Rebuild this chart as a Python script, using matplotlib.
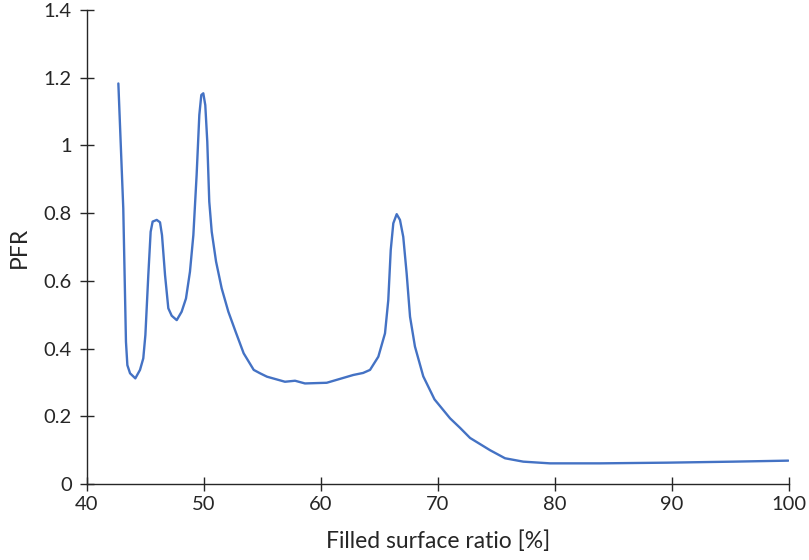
import matplotlib
matplotlib.use("Agg")
import matplotlib.pyplot as plt

filled_ratio = [42.68, 43.10, 43.33, 43.45, 43.68, 44.13, 44.53, 44.81, 44.99, 45.24,
                45.44, 45.61, 45.96, 46.24, 46.41, 46.67, 46.95, 47.24, 47.67, 48.09,
                48.46, 48.80, 49.09, 49.37, 49.60, 49.77, 49.94, 50.11, 50.28, 50.45,
                50.66, 51.03, 51.51, 52.08, 52.70, 53.39, 54.25, 54.79, 55.38, 56.92,
                57.78, 58.63, 60.49, 62.76, 63.60, 64.19, 64.90, 65.47, 65.75, 65.96,
                66.18, 66.47, 66.75, 67.03, 67.32, 67.61, 68.03, 68.74, 69.70, 71.03,
                71.88, 72.74, 74.44, 75.73, 77.29, 79.57, 83.85, 89.55, 95.20, 99.94]
pfr = [1.183, 0.814, 0.420, 0.351, 0.327, 0.312, 0.337, 0.371, 0.440, 0.617,
       0.745, 0.775, 0.780, 0.773, 0.735, 0.617, 0.519, 0.497, 0.484, 0.509,
       0.548, 0.627, 0.735, 0.913, 1.090, 1.149, 1.154, 1.119, 1.011, 0.834,
       0.745, 0.657, 0.578, 0.509, 0.450, 0.386, 0.337, 0.327, 0.317, 0.302,
       0.305, 0.297, 0.299, 0.322, 0.328, 0.337, 0.376, 0.445, 0.543, 0.691,
       0.770, 0.797, 0.780, 0.730, 0.622, 0.494, 0.406, 0.318, 0.250, 0.194,
       0.166, 0.136, 0.100, 0.076, 0.066, 0.061, 0.061, 0.063, 0.066, 0.069]

x_ticks = [40, 50, 60, 70, 80, 90, 100]
y_ticks = [0, 0.2, 0.4, 0.6, 0.8, 1, 1.2, 1.4]
y_tick_labels = ["0", "0.2", "0.4", "0.6", "0.8", "1", "1.2", "1.4"]

plt.rcParams['font.family'] = ['Lato', 'DejaVu Sans']
fig = plt.figure(figsize=(8.09, 5.60), dpi=100)
ax = fig.add_axes([87/809, 76/560, 702/809, 474/560])

ax.plot(filled_ratio, pfr, color='#4472C4', linewidth=1.7,
        solid_joinstyle='round', solid_capstyle='round')

ax.set_xlim(40, 100)
ax.set_ylim(0, 1.4)
ax.set_xticks(x_ticks)
ax.set_yticks(y_ticks)
ax.set_yticklabels(y_tick_labels)

for s in ['top', 'right']:
    ax.spines[s].set_visible(False)
for s in ['left', 'bottom']:
    ax.spines[s].set_color('#262626')
    ax.spines[s].set_linewidth(1.0)

ax.tick_params(axis='both', direction='inout', length=10, width=1.0, color='#262626',
               labelsize=14.5, labelcolor='#262626')
ax.tick_params(axis='x', pad=4)
ax.tick_params(axis='y', pad=6)

ax.set_xlabel('Filled surface ratio [%]', fontsize=16.5, color='#262626', labelpad=12)
ax.set_ylabel('PFR', fontsize=16.5, color='#262626', labelpad=10)

fig.savefig('out.png', dpi=100)
